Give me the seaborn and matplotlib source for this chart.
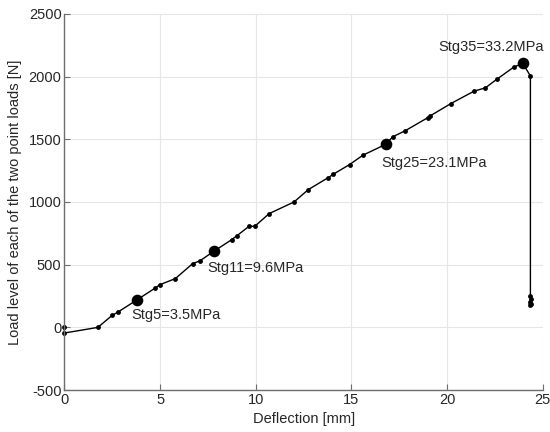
import matplotlib
matplotlib.use("Agg")
import matplotlib.pyplot as plt
import seaborn as sns
import pandas as pd

# load-deflection curve
deflection = [0, 0, 1.75, 2.5, 2.8, 3.8, 4.75, 5.0, 5.8, 6.7, 7.1, 7.8, 8.75, 9.0,
              9.65, 9.95, 10.7, 12.0, 12.75, 13.8, 14.05, 14.9, 15.6, 16.8, 17.15,
              17.8, 19.0, 19.1, 20.2, 21.4, 22.0, 22.6, 23.5, 23.95, 24.35,
              24.35, 24.4, 24.35, 24.4, 24.35]
load = [0, -45, 0, 96, 122, 220, 314, 341, 389, 508, 532, 606, 700, 729,
        806, 806, 907, 1000, 1099, 1195, 1221, 1298, 1373, 1460, 1519,
        1567, 1673, 1685, 1785, 1883, 1910, 1979, 2077, 2104, 2005,
        250, 230, 205, 185, 175]

# highlighted stages
stage_labels = ["Stg5=3.5MPa", "Stg11=9.6MPa", "Stg25=23.1MPa", "Stg35=33.2MPa"]
stage_x = [3.8, 7.8, 16.8, 23.95]
stage_y = [220, 606, 1460, 2104]
label_x = [3.52, 7.46, 16.57, 19.55]
label_y = [101, 476, 1314, 2232]

df = pd.DataFrame({"defl": deflection, "load": load})
stg = pd.DataFrame({"defl": stage_x, "load": stage_y})

sns.set_theme(style="whitegrid")
plt.rcParams["font.family"] = ["Liberation Sans", "DejaVu Sans"]
plt.rcParams["axes.unicode_minus"] = False

fig = plt.figure(figsize=(5.5, 4.32), dpi=100)
ax = fig.add_axes([0.117, 0.097, 0.87, 0.871])

sns.lineplot(data=df, x="defl", y="load", sort=False, estimator=None,
             color="black", linewidth=1, marker="o", markersize=3.5,
             markeredgewidth=0, clip_on=False, ax=ax)
sns.scatterplot(data=stg, x="defl", y="load", color="black", s=70,
                edgecolor="black", linewidth=0, zorder=5, ax=ax)

for lab, tx, ty in zip(stage_labels, label_x, label_y):
    ax.text(tx, ty, lab, fontsize=10.5, color="#262626", va="center", ha="left")

ax.set_xlim(0, 25)
ax.set_ylim(-500, 2500)
ax.set_xticks([0, 5, 10, 15, 20, 25])
ax.set_yticks([-500, 0, 500, 1000, 1500, 2000, 2500])
ax.set_xlabel("Deflection [mm]", fontsize=10.5, color="#262626", labelpad=4)
ax.set_ylabel("Load level of each of the two point loads [N]", fontsize=10.5,
              color="#262626", labelpad=5)

ax.grid(True, color="#e6e6e6", linewidth=0.8)
for s in ["top", "right"]:
    ax.spines[s].set_visible(False)
for s in ["left", "bottom"]:
    ax.spines[s].set_color("#6e6e6e")
    ax.spines[s].set_linewidth(1)
ax.tick_params(direction="in", length=4, width=0.8, color="#6e6e6e",
               labelsize=10.5, labelcolor="#262626", pad=2, left=True, bottom=True)

fig.savefig("out.png", dpi=100)
